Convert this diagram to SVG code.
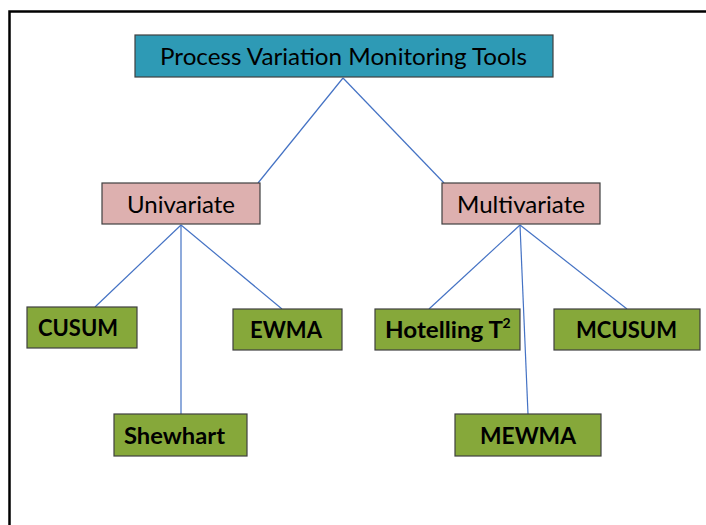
<svg xmlns="http://www.w3.org/2000/svg" width="706" height="525" viewBox="0 0 706 525">
<style>
.box{stroke:#404040;stroke-width:1.2}
.top{fill:#2E9AB5}
.mid{fill:#DDB0AF}
.leaf{fill:#86A83A}
.t{font-family:Lato,"Open Sans",sans-serif;fill:#000;text-anchor:middle;dominant-baseline:central}
.n{font-size:23px}
.b{font-size:22px;font-weight:bold}
.c line{stroke:#4472C4;stroke-width:1.2}
</style>
<rect x="0" y="0" width="706" height="525" fill="#fff"/>
<rect x="9.5" y="11.5" width="720" height="540" fill="none" stroke="#000" stroke-width="2.5"/>
<g class="c">
<line x1="343" y1="78" x2="258" y2="183"/>
<line x1="343" y1="78" x2="444" y2="183"/>
<line x1="181" y1="225" x2="95" y2="307"/>
<line x1="181" y1="225" x2="181" y2="414"/>
<line x1="181" y1="225" x2="282" y2="309"/>
<line x1="520" y1="225" x2="429" y2="309"/>
<line x1="520" y1="225" x2="528" y2="414"/>
<line x1="520" y1="225" x2="627" y2="309"/>
</g>
<g id="root"><rect class="box top" x="135" y="35" width="418" height="42"/><text class="t n" x="343.5" y="56" textLength="367" lengthAdjust="spacingAndGlyphs">Process Variation Monitoring Tools</text></g>
<g id="univariate"><rect class="box mid" x="102" y="183" width="158" height="41"/><text class="t n" x="181" y="203.5" textLength="108" lengthAdjust="spacingAndGlyphs">Univariate</text></g>
<g id="multivariate"><rect class="box mid" x="442" y="183" width="158" height="41"/><text class="t n" x="521" y="203.5" textLength="128" lengthAdjust="spacingAndGlyphs">Multivariate</text></g>
<g id="cusum"><rect class="box leaf" x="27" y="307" width="110" height="41"/><text class="t b" x="78" y="327.5" textLength="80" lengthAdjust="spacingAndGlyphs">CUSUM</text></g>
<g id="ewma"><rect class="box leaf" x="233" y="309" width="109" height="41"/><text class="t b" x="286" y="329.5" textLength="72" lengthAdjust="spacingAndGlyphs">EWMA</text></g>
<g id="shewhart"><rect class="box leaf" x="114" y="414" width="133" height="42"/><text class="t b" x="174.5" y="435.5" textLength="101" lengthAdjust="spacingAndGlyphs">Shewhart</text></g>
<g id="hotelling"><rect class="box leaf" x="375" y="309" width="145" height="41"/><text class="t b" x="444" y="329.5" textLength="118" lengthAdjust="spacingAndGlyphs">Hotelling T</text><text class="t" x="506.5" y="322" font-size="14" font-weight="bold">2</text></g>
<g id="mcusum"><rect class="box leaf" x="554" y="309" width="146" height="41"/><text class="t b" x="626.5" y="329.5" textLength="101" lengthAdjust="spacingAndGlyphs">MCUSUM</text></g>
<g id="mewma"><rect class="box leaf" x="455" y="414" width="146" height="42"/><text class="t b" x="528" y="435.5" textLength="96" lengthAdjust="spacingAndGlyphs">MEWMA</text></g>
</svg>
